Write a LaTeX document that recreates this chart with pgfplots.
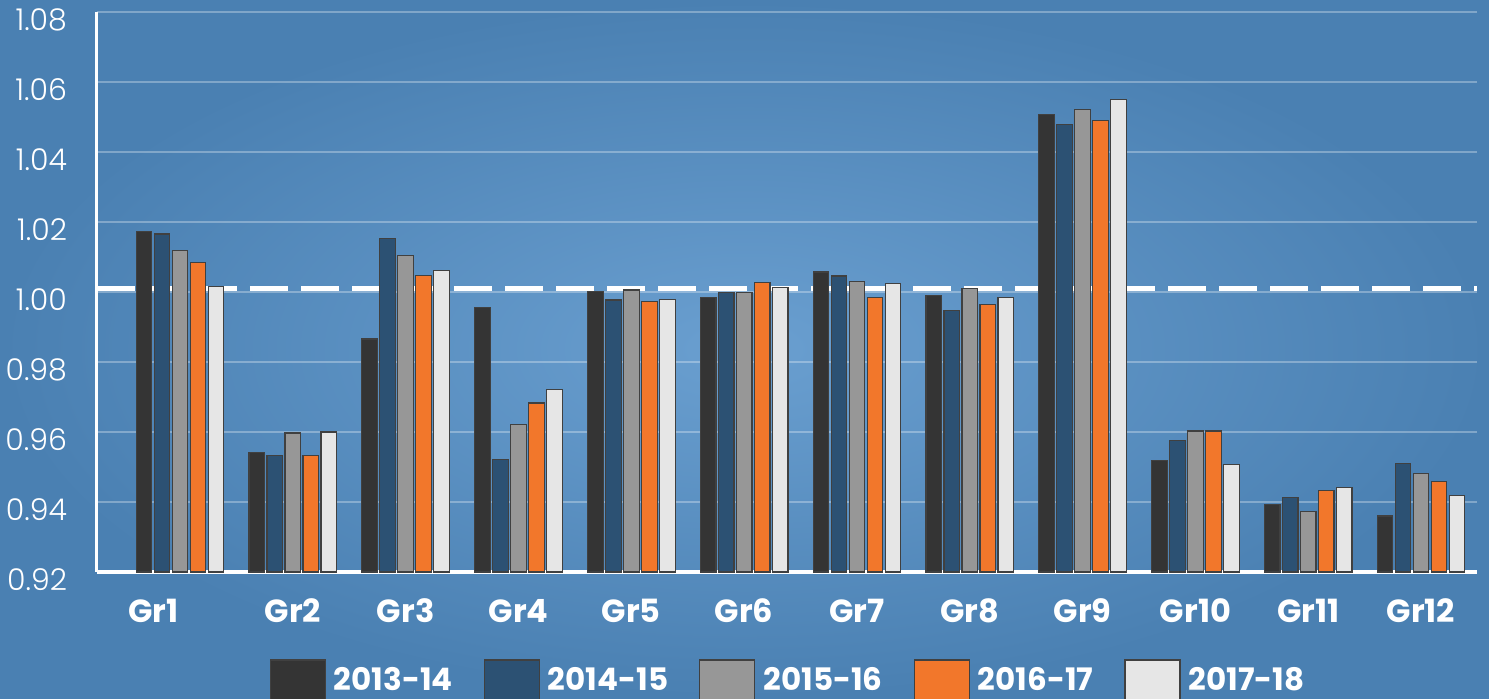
\documentclass[border=0pt]{standalone}
\usepackage{pgfplots}
\pgfplotsset{compat=1.18}
\usepackage{fontspec}
\setmainfont{Poppins}
\newfontfamily\lightfont{Poppins Light}
\definecolor{bgouter}{HTML}{4A80B2}
\definecolor{bginner}{HTML}{6A9FD0}
\definecolor{cA}{HTML}{343434}
\definecolor{cB}{HTML}{2C5173}
\definecolor{cC}{HTML}{979797}
\definecolor{cD}{HTML}{F2772B}
\definecolor{cE}{HTML}{E6E6E6}
\definecolor{edge}{HTML}{404040}
\begin{document}
\begin{tikzpicture}
\shade[inner color=bginner, outer color=bgouter] (0,0) rectangle (744.5pt,349pt);
\begin{axis}[
  at={(48.5pt,63pt)}, anchor=south west,
  scale only axis, width=690pt, height=280pt,
  xmin=0.264, xmax=12.496, ymin=0.92, ymax=1.08,
  ybar=1.2pt, bar width=7.8pt,
  axis lines*=left,
  x axis line style={white, line width=2.4pt},
  y axis line style={white, line width=1.5pt},
  major tick length=0pt,
  ytick={0.92,0.94,0.96,0.98,1.00,1.02,1.04,1.06,1.08},
  yticklabel style={/pgf/number format/fixed, /pgf/number format/precision=2, /pgf/number format/fixed zerofill,
    /pgf/number format/assume math mode=true,
    font=\lightfont\fontsize{15}{18}\selectfont, text=white, anchor=east, xshift=-11.5pt, yshift=-4pt},
  xtick={0.766,2,3,4,5,6,7,8,9,10,11,12},
  xticklabels={Gr1,Gr2,Gr3,Gr4,Gr5,Gr6,Gr7,Gr8,Gr9,Gr10,Gr11,Gr12},
  xticklabel style={font=\bfseries\fontsize{16}{19}\selectfont, text=white, anchor=base, yshift=-25pt},
  ymajorgrids, grid style={white, opacity=0.3, line width=1pt},
  legend columns=5,
  legend style={at={(axis description cs:0.5,0)}, anchor=north, yshift=-43.5pt, draw=none, fill=none,
    inner sep=0pt, font=\bfseries\fontsize{15.5}{18}\selectfont, text=white,
    nodes={inner sep=0pt},
    /tikz/every odd column/.append style={column sep=4pt},
    /tikz/every even column/.append style={column sep=15.5pt}},
  legend image code/.code={\draw[#1] (0pt,-10pt) rectangle (27.5pt,10pt);},
  every axis plot/.append style={draw=edge, line width=0.6pt},
]
\addplot[sharp plot, draw=white, line width=2.4pt, dash pattern=on 19pt off 6.5pt, forget plot]
  coordinates {(0.264,1.001) (12.496,1.001)};
\addplot[fill=cA] coordinates {(1,1.0174) (2,0.9542) (3,0.9866) (4,0.9955) (5,1.0002) (6,0.9984) (7,1.0057) (8,0.9990) (9,1.0507) (10,0.9518) (11,0.9393) (12,0.9360)};
\addplot[fill=cB] coordinates {(1,1.0166) (2,0.9532) (3,1.0152) (4,0.9521) (5,0.9977) (6,0.9998) (7,1.0046) (8,0.9947) (9,1.0478) (10,0.9575) (11,0.9413) (12,0.9510)};
\addplot[fill=cC] coordinates {(1,1.0119) (2,0.9597) (3,1.0105) (4,0.9622) (5,1.0006) (6,0.9998) (7,1.0031) (8,1.0011) (9,1.0522) (10,0.9603) (11,0.9373) (12,0.9482)};
\addplot[fill=cD] coordinates {(1,1.0085) (2,0.9532) (3,1.0048) (4,0.9683) (5,0.9973) (6,1.0027) (7,0.9985) (8,0.9965) (9,1.0490) (10,0.9603) (11,0.9434) (12,0.9459)};
\addplot[fill=cE] coordinates {(1,1.0016) (2,0.9600) (3,1.0062) (4,0.9721) (5,0.9979) (6,1.0012) (7,1.0024) (8,0.9985) (9,1.0551) (10,0.9508) (11,0.9442) (12,0.9419)};
\legend{2013-14,2014-15,2015-16,2016-17,2017-18}
\end{axis}
\pgfresetboundingbox
\useasboundingbox (0,0) rectangle (744.5pt,349pt);
\end{tikzpicture}
\end{document}
